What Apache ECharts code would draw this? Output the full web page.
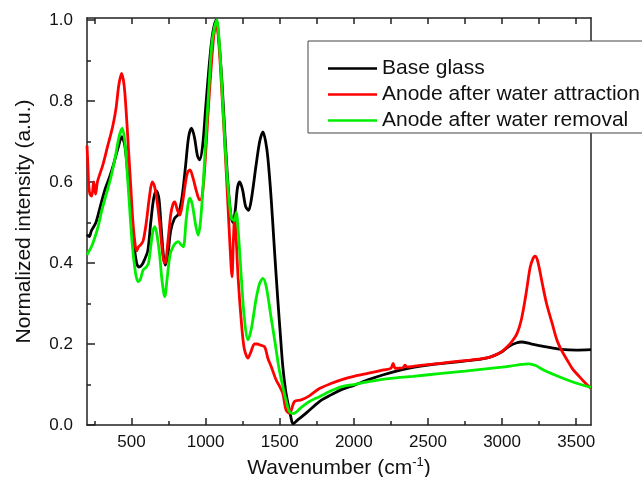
<!DOCTYPE html>
<html>
<head>
<meta charset="utf-8">
<script src="https://cdn.jsdelivr.net/npm/echarts@6/dist/echarts.min.js"></script>
<style>
html, body { margin: 0; padding: 0; background: #fff; }
#mainchart { width: 642px; height: 477px; }
</style>
</head>
<body>
<div id="mainchart"></div>
<script>
// series names (legend order)
var seriesNames = ['Base glass', 'Anode after water attraction', 'Anode after water removal'];

// tick values
var xMajorTicks = [500, 1000, 1500, 2000, 2500, 3000, 3500];
var xMinorTicks = [250, 750, 1250, 1750, 2250, 2750, 3250];
var xTopTicks = [250, 500, 750, 1000, 1250, 1500, 1750, 2000, 2250, 2500, 2750, 3000, 3250, 3500];
var yMajorTicks = [0, 0.2, 0.4, 0.6, 0.8, 1.0];
var yMinorTicks = [0.1, 0.3, 0.5, 0.7, 0.9];

// [wavenumber, normalized intensity]
var baseGlass = [
    [200, 0.47], [215, 0.465], [230, 0.48], [260, 0.50], [290, 0.54], [320, 0.58], [350, 0.61],
    [380, 0.645], [410, 0.685], [435, 0.712], [455, 0.69], [475, 0.62], [495, 0.53], [515, 0.45],
    [535, 0.40], [550, 0.39], [570, 0.395], [590, 0.41], [610, 0.43], [630, 0.50], [650, 0.56],
    [668, 0.578], [685, 0.56], [700, 0.49], [715, 0.42], [728, 0.395], [745, 0.42], [765, 0.48],
    [790, 0.51], [815, 0.52], [840, 0.56], [865, 0.64], [885, 0.71], [905, 0.733], [925, 0.71],
    [945, 0.665], [960, 0.655], [980, 0.69], [1000, 0.78], [1020, 0.87], [1045, 0.96], [1072, 1.0],
    [1090, 0.95], [1110, 0.85], [1130, 0.72], [1150, 0.60], [1170, 0.52], [1185, 0.50], [1200, 0.53],
    [1215, 0.585], [1230, 0.60], [1250, 0.58], [1270, 0.54], [1290, 0.53], [1310, 0.56], [1340, 0.64],
    [1365, 0.70], [1387, 0.724], [1405, 0.70], [1420, 0.66], [1443, 0.556], [1465, 0.43], [1487, 0.31],
    [1505, 0.22], [1521, 0.144], [1540, 0.085], [1560, 0.045], [1575, 0.02], [1590, 0.003],
    [1620, 0.012], [1680, 0.03], [1768, 0.058], [1850, 0.075], [1920, 0.088], [2000, 0.098],
    [2100, 0.112], [2200, 0.124], [2300, 0.134], [2400, 0.142], [2500, 0.148], [2600, 0.152],
    [2700, 0.156], [2800, 0.16], [2900, 0.166], [2950, 0.172], [3000, 0.181], [3050, 0.195],
    [3100, 0.203], [3130, 0.205], [3200, 0.2], [3300, 0.193], [3400, 0.187], [3500, 0.185], [3600, 0.186]
];

var anodeAttraction = [
    [200, 0.69], [206, 0.64], [212, 0.59], [220, 0.57], [232, 0.565], [245, 0.6], [258, 0.57],
    [270, 0.6], [287, 0.62], [305, 0.64], [320, 0.66], [340, 0.69], [355, 0.71], [375, 0.74],
    [395, 0.78], [415, 0.84], [433, 0.868], [450, 0.84], [465, 0.77], [480, 0.68], [495, 0.59],
    [510, 0.50], [525, 0.445], [535, 0.43], [548, 0.44], [562, 0.445], [579, 0.455], [600, 0.50],
    [620, 0.56], [640, 0.60], [655, 0.59], [670, 0.56], [690, 0.50], [705, 0.44], [718, 0.405],
    [728, 0.40], [745, 0.45], [765, 0.52], [780, 0.545], [792, 0.551], [810, 0.53], [826, 0.518],
    [845, 0.55], [865, 0.60], [880, 0.625], [895, 0.63], [915, 0.61], [940, 0.575], [960, 0.556],
    [975, 0.56], [995, 0.64], [1015, 0.76], [1035, 0.87], [1055, 0.96], [1072, 0.995], [1090, 0.94],
    [1110, 0.82], [1130, 0.69], [1149, 0.556], [1165, 0.44], [1178, 0.366], [1188, 0.46],
    [1196, 0.515], [1205, 0.47], [1220, 0.36], [1240, 0.26], [1260, 0.19], [1286, 0.165],
    [1305, 0.18], [1330, 0.2], [1350, 0.2], [1364, 0.198], [1398, 0.193], [1420, 0.165],
    [1443, 0.144], [1476, 0.111], [1500, 0.095], [1521, 0.078], [1543, 0.037], [1566, 0.029],
    [1600, 0.058], [1645, 0.062], [1700, 0.072], [1768, 0.09], [1850, 0.103], [1920, 0.112],
    [2000, 0.12], [2100, 0.128], [2200, 0.136], [2250, 0.14], [2265, 0.152], [2280, 0.14],
    [2330, 0.141], [2345, 0.148], [2360, 0.143], [2400, 0.145], [2500, 0.149], [2600, 0.153],
    [2700, 0.157], [2800, 0.161], [2900, 0.166], [2950, 0.172], [3000, 0.182], [3040, 0.195],
    [3070, 0.208], [3100, 0.225], [3130, 0.26], [3160, 0.32], [3190, 0.39], [3210, 0.412],
    [3222, 0.417], [3240, 0.405], [3271, 0.35], [3300, 0.30], [3338, 0.251], [3370, 0.21],
    [3406, 0.181], [3440, 0.16], [3473, 0.14], [3520, 0.12], [3563, 0.103], [3600, 0.09]
];

var anodeRemoval = [
    [200, 0.42], [215, 0.43], [230, 0.44], [250, 0.46], [275, 0.49], [300, 0.53], [330, 0.57],
    [360, 0.61], [390, 0.66], [415, 0.71], [438, 0.733], [455, 0.70], [470, 0.63], [485, 0.55],
    [500, 0.47], [515, 0.41], [530, 0.37], [545, 0.354], [560, 0.36], [579, 0.383], [600, 0.39],
    [615, 0.40], [630, 0.44], [645, 0.48], [658, 0.49], [672, 0.47], [690, 0.42], [705, 0.36],
    [718, 0.325], [725, 0.317], [740, 0.36], [760, 0.42], [780, 0.44], [800, 0.45], [815, 0.453],
    [835, 0.445], [850, 0.44], [870, 0.51], [893, 0.56], [910, 0.545], [930, 0.50], [949, 0.469],
    [965, 0.50], [985, 0.60], [1005, 0.73], [1025, 0.85], [1045, 0.95], [1075, 1.0], [1095, 0.93],
    [1115, 0.80], [1135, 0.67], [1155, 0.57], [1175, 0.51], [1195, 0.505], [1207, 0.525],
    [1220, 0.48], [1240, 0.37], [1260, 0.27], [1286, 0.21], [1310, 0.24], [1340, 0.31], [1365, 0.35],
    [1387, 0.362], [1410, 0.34], [1440, 0.27], [1466, 0.21], [1495, 0.14], [1521, 0.095],
    [1545, 0.058], [1566, 0.033], [1590, 0.028], [1650, 0.045], [1700, 0.058], [1768, 0.07],
    [1850, 0.085], [1920, 0.095], [2000, 0.1], [2100, 0.107], [2250, 0.115], [2400, 0.12],
    [2576, 0.127], [2750, 0.133], [3000, 0.143], [3100, 0.148], [3181, 0.151], [3226, 0.147],
    [3280, 0.136], [3361, 0.123], [3450, 0.11], [3530, 0.1], [3600, 0.093]
];

var lineColors = ['#000000', '#ff0000', '#00ee00'];

var myChart = echarts.init(document.getElementById('mainchart'), null, { renderer: 'canvas' });

var axisColor = '#222';
var textColor = '#111';
var fontFamily = 'Liberation Sans, Arial, sans-serif';

var option = {
    animation: false,
    textStyle: { fontFamily: fontFamily },
    grid: { left: 87, right: 51, top: 18, bottom: 52, outerBoundsMode: 'none', containLabel: false },
    legend: {
        data: seriesNames.map(function (n) { return { name: n, icon: 'rect' }; }),
        orient: 'vertical',
        left: 308,
        top: 41,
        itemWidth: 49,
        itemHeight: 2.5,
        itemGap: 5,
        padding: [17, 10, 2, 20],
        borderColor: '#444',
        borderWidth: 1,
        backgroundColor: '#fff',
        textStyle: { fontSize: 21, lineHeight: 21, color: textColor, fontFamily: fontFamily }
    },
    xAxis: [{
        type: 'value', position: 'bottom', min: 200, max: 3600,
        name: 'Wavenumber (cm{sup|-1})',
        nameLocation: 'middle', nameGap: 25,
        nameTextStyle: {
            fontSize: 21, color: textColor, fontFamily: fontFamily,
            rich: { sup: { fontSize: 13, color: textColor, fontFamily: fontFamily, padding: [0, 0, 12, 0] } }
        },
        axisLine: { show: true, onZero: false, lineStyle: { color: axisColor, width: 1.5 } },
        axisTick: { show: true, inside: true, length: 7, customValues: xMajorTicks, lineStyle: { color: axisColor, width: 1.5 } },
        axisLabel: {
            customValues: xMajorTicks, fontSize: 17, color: textColor, margin: 9,
            formatter: function (v) { return String(v); }
        },
        splitLine: { show: false }
    }, {
        type: 'value', position: 'bottom', min: 200, max: 3600,
        axisLine: { show: false },
        axisTick: { show: true, inside: true, length: 4, customValues: xMinorTicks, lineStyle: { color: axisColor, width: 1.5 } },
        axisLabel: { show: false },
        splitLine: { show: false }
    }, {
        type: 'value', position: 'top', min: 200, max: 3600,
        axisLine: { show: true, onZero: false, lineStyle: { color: axisColor, width: 1.5 } },
        axisTick: { show: true, inside: true, length: 6, customValues: xTopTicks, lineStyle: { color: axisColor, width: 1.5 } },
        axisLabel: { show: false },
        splitLine: { show: false }
    }],
    yAxis: [{
        type: 'value', position: 'left', min: 0, max: 1.005,
        name: 'Normalized intensity (a.u.)',
        nameLocation: 'middle', nameGap: 52,
        nameTextStyle: { fontSize: 21, color: textColor, fontFamily: fontFamily },
        axisLine: { show: true, onZero: false, lineStyle: { color: axisColor, width: 1.5 } },
        axisTick: { show: true, inside: true, length: 8, customValues: yMajorTicks, lineStyle: { color: axisColor, width: 1.5 } },
        axisLabel: {
            customValues: yMajorTicks, fontSize: 17, color: textColor, margin: 14,
            formatter: function (v) { return v.toFixed(1); }
        },
        splitLine: { show: false }
    }, {
        type: 'value', position: 'left', min: 0, max: 1.005,
        axisLine: { show: false },
        axisTick: { show: true, inside: true, length: 4, customValues: yMinorTicks, lineStyle: { color: axisColor, width: 1.5 } },
        axisLabel: { show: false },
        splitLine: { show: false }
    }, {
        type: 'value', position: 'right', min: 0, max: 1.005,
        axisLine: { show: true, onZero: false, lineStyle: { color: axisColor, width: 1.5 } },
        axisTick: { show: false },
        axisLabel: { show: false },
        splitLine: { show: false }
    }],
    series: [baseGlass, anodeAttraction, anodeRemoval].map(function (d, i) {
        return {
            name: seriesNames[i],
            type: 'line',
            xAxisIndex: 0,
            yAxisIndex: 0,
            data: d,
            symbol: 'none',
            smooth: 0.3,
            color: lineColors[i],
            lineStyle: { color: lineColors[i], width: 2.8 },
            z: 2 + i
        };
    })
};

myChart.setOption(option);
</script>
</body>
</html>
